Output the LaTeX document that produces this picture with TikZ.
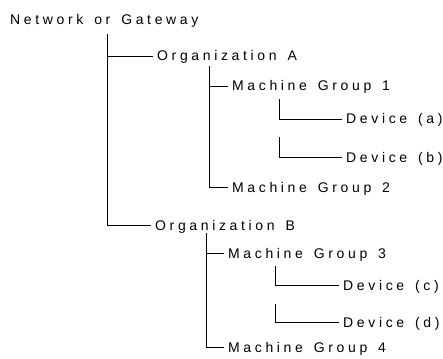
\documentclass[tikz,border=0pt]{standalone}
\usepackage{fontspec}
\setmainfont{Liberation Sans}[LetterSpace=26,WordSpace=1.45]
\begin{document}
\begin{tikzpicture}[x=1pt,y=-1pt,
  lbl/.style={anchor=west, inner xsep=0pt, inner ysep=0pt, text height=10pt, text depth=0pt, font=\fontsize{14}{16}\selectfont},
  conn/.style={line width=0.7pt, black, shorten >=4.5pt}]
\useasboundingbox (0,0) rectangle (443,358);
\node[lbl] (root) at (10,19.7) {Network or Gateway};
\node[lbl] (orgA) at (157,56) {Organization A};
\node[lbl] (mg1) at (232,86) {Machine Group 1};
\node[lbl] (deva) at (346,119) {Device (a)};
\node[lbl] (devb) at (346,157) {Device (b)};
\node[lbl] (mg2) at (232,187) {Machine Group 2};
\node[lbl] (orgB) at (155,225) {Organization B};
\node[lbl] (mg3) at (228,253) {Machine Group 3};
\node[lbl] (devc) at (343,285) {Device (c)};
\node[lbl] (devd) at (343,322) {Device (d)};
\node[lbl] (mg4) at (228,347) {Machine Group 4};
\coordinate (r1) at (107,34);
\coordinate (a1) at (209,66);
\coordinate (m1a) at (279,99);
\coordinate (m1b) at (279,137);
\coordinate (b1) at (206,233);
\coordinate (m3a) at (275,266);
\coordinate (m3b) at (275,304);
\draw[conn] (r1) |- (orgA.west);
\draw[conn] (r1) |- (orgB.west);
\draw[conn] (a1) |- (mg1.west);
\draw[conn] (a1) |- (mg2.west);
\draw[conn] (m1a) |- (deva.west);
\draw[conn] (m1b) |- (devb.west);
\draw[conn] (b1) |- (mg3.west);
\draw[conn] (b1) |- (mg4.west);
\draw[conn] (m3a) |- (devc.west);
\draw[conn] (m3b) |- (devd.west);
\end{tikzpicture}
\end{document}
